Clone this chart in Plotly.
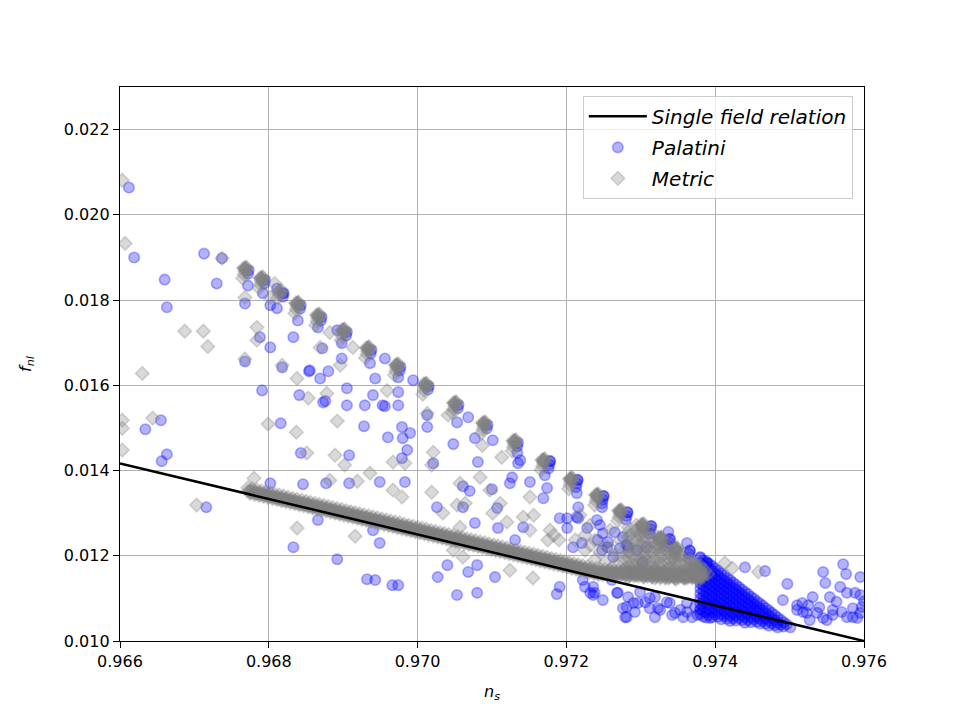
import plotly.graph_objects as go

# ---------------- data ----------------
x_ticks = [0.966, 0.968, 0.970, 0.972, 0.974, 0.976]
x_tick_labels = ["0.966", "0.968", "0.970", "0.972", "0.974", "0.976"]
y_ticks = [0.010, 0.012, 0.014, 0.016, 0.018, 0.020, 0.022]
y_tick_labels = ["0.010", "0.012", "0.014", "0.016", "0.018", "0.020", "0.022"]

# single field relation (end points)
line_ns = [0.966, 0.976]
line_fnl = [0.0141667, 0.0100]

# Metric: dense clusters along upper stripe
metric_clusters = [
    (0.96768, 0.01874), (0.96768, 0.01874), (0.96769, 0.01876), (0.96768, 0.01867), (0.96767, 0.01860), (0.96765, 0.01851),
    (0.96770, 0.01877), (0.96766, 0.01875), (0.96769, 0.01870),
    (0.96790, 0.01851), (0.96790, 0.01851), (0.96791, 0.01853), (0.96790, 0.01844), (0.96789, 0.01837), (0.96787, 0.01828),
    (0.96792, 0.01854), (0.96788, 0.01852), (0.96791, 0.01847),
    (0.96815, 0.01820), (0.96814, 0.01813), (0.96812, 0.01805),
    (0.96817, 0.01823), (0.96813, 0.01821), (0.96816, 0.01816),
    (0.96838, 0.01792), (0.96838, 0.01792), (0.96839, 0.01794), (0.96838, 0.01785), (0.96837, 0.01778), (0.96835, 0.01769),
    (0.96840, 0.01795), (0.96836, 0.01793), (0.96839, 0.01788),
    (0.96866, 0.01764), (0.96866, 0.01764), (0.96867, 0.01766), (0.96866, 0.01757), (0.96865, 0.01750), (0.96863, 0.01741),
    (0.96868, 0.01767), (0.96864, 0.01765), (0.96867, 0.01760),
    (0.96900, 0.01729), (0.96900, 0.01729), (0.96901, 0.01731), (0.96900, 0.01722), (0.96899, 0.01715), (0.96897, 0.01706),
    (0.96902, 0.01732), (0.96898, 0.01730), (0.96901, 0.01725),
    (0.96933, 0.01687), (0.96933, 0.01687), (0.96934, 0.01689), (0.96933, 0.01680), (0.96932, 0.01673), (0.96930, 0.01664),
    (0.96935, 0.01690), (0.96931, 0.01688), (0.96934, 0.01683),
    (0.96972, 0.01647), (0.96972, 0.01647), (0.96973, 0.01649), (0.96972, 0.01640), (0.96971, 0.01633), (0.96969, 0.01624),
    (0.96974, 0.01650), (0.96970, 0.01648), (0.96973, 0.01643),
    (0.97010, 0.01602), (0.97010, 0.01602), (0.97011, 0.01604), (0.97010, 0.01595), (0.97009, 0.01588), (0.97007, 0.01579),
    (0.97012, 0.01605), (0.97008, 0.01603), (0.97011, 0.01598),
    (0.97050, 0.01558), (0.97050, 0.01558), (0.97051, 0.01560), (0.97050, 0.01551), (0.97049, 0.01544), (0.97047, 0.01535),
    (0.97052, 0.01561), (0.97048, 0.01559), (0.97051, 0.01554),
    (0.97089, 0.01511), (0.97089, 0.01511), (0.97090, 0.01513), (0.97089, 0.01504), (0.97088, 0.01497), (0.97086, 0.01488),
    (0.97091, 0.01514), (0.97087, 0.01512), (0.97090, 0.01507),
    (0.97130, 0.01469), (0.97130, 0.01469), (0.97131, 0.01471), (0.97130, 0.01462), (0.97129, 0.01455), (0.97127, 0.01446),
    (0.97132, 0.01472), (0.97128, 0.01470), (0.97131, 0.01465),
    (0.97169, 0.01424), (0.97169, 0.01424), (0.97170, 0.01426), (0.97169, 0.01417), (0.97168, 0.01410), (0.97166, 0.01401),
    (0.97171, 0.01427), (0.97167, 0.01425), (0.97170, 0.01420),
    (0.97206, 0.01380), (0.97206, 0.01380), (0.97207, 0.01382), (0.97206, 0.01373), (0.97205, 0.01366), (0.97203, 0.01357),
    (0.97208, 0.01383), (0.97204, 0.01381), (0.97207, 0.01376),
    (0.97241, 0.01342), (0.97241, 0.01342), (0.97242, 0.01344), (0.97241, 0.01335), (0.97240, 0.01328), (0.97238, 0.01319),
    (0.97243, 0.01345), (0.97239, 0.01343), (0.97242, 0.01338),
    (0.97272, 0.01305), (0.97272, 0.01305), (0.97273, 0.01307), (0.97272, 0.01298), (0.97271, 0.01291), (0.97269, 0.01282),
    (0.97274, 0.01308), (0.97270, 0.01306), (0.97273, 0.01301),
    (0.97302, 0.01272), (0.97302, 0.01272), (0.97303, 0.01274), (0.97302, 0.01265), (0.97301, 0.01258), (0.97299, 0.01249),
    (0.97304, 0.01275), (0.97300, 0.01273), (0.97303, 0.01268),
    (0.97326, 0.01241), (0.97326, 0.01241), (0.97327, 0.01243), (0.97326, 0.01234), (0.97325, 0.01227), (0.97323, 0.01218),
    (0.97328, 0.01244), (0.97324, 0.01242), (0.97327, 0.01237),
    (0.97347, 0.01216), (0.97347, 0.01216), (0.97348, 0.01218), (0.97347, 0.01209), (0.97346, 0.01202), (0.97344, 0.01193),
    (0.97349, 0.01219), (0.97345, 0.01217), (0.97348, 0.01212),
    (0.97373, 0.01178), (0.97373, 0.01178), (0.97374, 0.01180), (0.97373, 0.01171), (0.97372, 0.01164), (0.97370, 0.01155),
]

# Metric: dense lower band (main ridge)
metric_band_ns = [
    0.96772, 0.96775, 0.96778, 0.96781, 0.96784, 0.96787, 0.96790, 0.96793, 0.96796, 0.96799,
    0.96802, 0.96805, 0.96808, 0.96811, 0.96814, 0.96817, 0.96820, 0.96823, 0.96826, 0.96829,
    0.96832, 0.96835, 0.96838, 0.96841, 0.96844, 0.96847, 0.96850, 0.96853, 0.96856, 0.96859,
    0.96862, 0.96865, 0.96868, 0.96871, 0.96874, 0.96877, 0.96880, 0.96883, 0.96886, 0.96889,
    0.96892, 0.96895, 0.96898, 0.96901, 0.96904, 0.96907, 0.96910, 0.96913, 0.96916, 0.96919,
    0.96922, 0.96925, 0.96928, 0.96931, 0.96934, 0.96937, 0.96940, 0.96943, 0.96946, 0.96949,
    0.96952, 0.96955, 0.96958, 0.96961, 0.96964, 0.96967, 0.96970, 0.96973, 0.96976, 0.96979,
    0.96982, 0.96985, 0.96988, 0.96991, 0.96994, 0.96997, 0.97000, 0.97003, 0.97006, 0.97009,
    0.97012, 0.97015, 0.97018, 0.97021, 0.97024, 0.97027, 0.97030, 0.97033, 0.97036, 0.97039,
    0.97042, 0.97045, 0.97048, 0.97051, 0.97054, 0.97057, 0.97060, 0.97063, 0.97066, 0.97069,
    0.97072, 0.97075, 0.97078, 0.97081, 0.97084, 0.97087, 0.97090, 0.97093, 0.97096, 0.97099,
    0.97102, 0.97105, 0.97108, 0.97111, 0.97114, 0.97117, 0.97120, 0.97123, 0.97126, 0.97129,
    0.97132, 0.97135, 0.97138, 0.97141, 0.97144, 0.97147, 0.97150, 0.97153, 0.97156, 0.97159,
    0.97162, 0.97165, 0.97168, 0.97171, 0.97174, 0.97177, 0.97180, 0.97183, 0.97186, 0.97189,
    0.97192, 0.97195, 0.97198, 0.97201, 0.97204, 0.97207, 0.97210, 0.97213, 0.97216, 0.97219,
    0.97222, 0.97225, 0.97228, 0.97231, 0.97234, 0.97237, 0.97240, 0.97243, 0.97246, 0.97249,
    0.97252, 0.97255, 0.97258, 0.97261, 0.97264, 0.97267, 0.97270, 0.97273, 0.97276, 0.97279,
    0.97282, 0.97285, 0.97288, 0.97291, 0.97294, 0.97297, 0.97300, 0.97303, 0.97306, 0.97309,
    0.97312, 0.97315, 0.97318, 0.97321, 0.97324, 0.97327, 0.97330, 0.97333, 0.97336, 0.97339,
    0.97342, 0.97345, 0.97348, 0.97351, 0.97354, 0.97357, 0.97360, 0.97363, 0.97366, 0.97369,
    0.97372, 0.97375, 0.97378, 0.97381, 0.97384,
]
metric_band_fnl = [
    0.013516, 0.013504, 0.013492, 0.013479, 0.013467, 0.013455, 0.013443, 0.013431, 0.013418, 0.013406,
    0.013394, 0.013382, 0.013370, 0.013357, 0.013345, 0.013333, 0.013321, 0.013309, 0.013297, 0.013284,
    0.013272, 0.013260, 0.013248, 0.013236, 0.013223, 0.013211, 0.013199, 0.013187, 0.013175, 0.013162,
    0.013150, 0.013138, 0.013126, 0.013114, 0.013101, 0.013089, 0.013077, 0.013065, 0.013053, 0.013041,
    0.013028, 0.013016, 0.013004, 0.012992, 0.012980, 0.012967, 0.012955, 0.012943, 0.012931, 0.012919,
    0.012906, 0.012894, 0.012882, 0.012870, 0.012858, 0.012845, 0.012833, 0.012821, 0.012809, 0.012797,
    0.012785, 0.012772, 0.012760, 0.012748, 0.012736, 0.012724, 0.012711, 0.012699, 0.012687, 0.012675,
    0.012663, 0.012650, 0.012638, 0.012626, 0.012614, 0.012602, 0.012589, 0.012577, 0.012565, 0.012553,
    0.012541, 0.012528, 0.012516, 0.012504, 0.012492, 0.012480, 0.012467, 0.012455, 0.012443, 0.012431,
    0.012419, 0.012406, 0.012394, 0.012382, 0.012370, 0.012358, 0.012346, 0.012333, 0.012321, 0.012309,
    0.012297, 0.012285, 0.012272, 0.012260, 0.012248, 0.012236, 0.012224, 0.012211, 0.012199, 0.012187,
    0.012175, 0.012163, 0.012150, 0.012138, 0.012126, 0.012114, 0.012102, 0.012089, 0.012077, 0.012065,
    0.012053, 0.012041, 0.012028, 0.012016, 0.012004, 0.011992, 0.011980, 0.011967, 0.011955, 0.011943,
    0.011931, 0.011919, 0.011907, 0.011894, 0.011882, 0.011870, 0.011858, 0.011846, 0.011833, 0.011821,
    0.011809, 0.011797, 0.011785, 0.011772, 0.011760, 0.011748, 0.011736, 0.011724, 0.011711, 0.011699,
    0.011688, 0.011675, 0.011663, 0.011651, 0.011639, 0.011626, 0.011614, 0.011602, 0.011600, 0.011598,
    0.011596, 0.011594, 0.011592, 0.011590, 0.011588, 0.011586, 0.011584, 0.011582, 0.011580, 0.011578,
    0.011576, 0.011574, 0.011572, 0.011570, 0.011568, 0.011566, 0.011564, 0.011562, 0.011560, 0.011558,
    0.011556, 0.011554, 0.011552, 0.011550, 0.011548, 0.011546, 0.011544, 0.011542, 0.011540, 0.011538,
    0.011536, 0.011534, 0.011532, 0.011530, 0.011528, 0.011526, 0.011524, 0.011522, 0.011520, 0.011518,
    0.011516, 0.011514, 0.011512, 0.011510, 0.011508,
]

# Metric: upper edge of the lower band
metric_band_top_ns = [
    0.96772, 0.96778, 0.96784, 0.96790, 0.96796, 0.96802, 0.96808, 0.96814, 0.96820, 0.96826,
    0.96832, 0.96838, 0.96844, 0.96850, 0.96856, 0.96862, 0.96868, 0.96874, 0.96880, 0.96886,
    0.96892, 0.96898, 0.96904, 0.96910, 0.96916, 0.96922, 0.96928, 0.96934, 0.96940, 0.96946,
    0.96952, 0.96958, 0.96964, 0.96970, 0.96976, 0.96982, 0.96988, 0.96994, 0.97000, 0.97006,
    0.97012, 0.97018, 0.97024, 0.97030, 0.97036, 0.97042, 0.97048, 0.97054, 0.97060, 0.97066,
    0.97072, 0.97078, 0.97084, 0.97090, 0.97096, 0.97102, 0.97108, 0.97114, 0.97120, 0.97126,
    0.97132, 0.97138, 0.97144, 0.97150, 0.97156, 0.97162, 0.97168, 0.97174, 0.97180, 0.97186,
    0.97192, 0.97198, 0.97204, 0.97210, 0.97216, 0.97222, 0.97228, 0.97234, 0.97240, 0.97246,
    0.97252, 0.97258, 0.97264, 0.97270, 0.97276, 0.97282, 0.97288, 0.97294, 0.97300, 0.97306,
    0.97312, 0.97318, 0.97324, 0.97330, 0.97336, 0.97342, 0.97348, 0.97354, 0.97360, 0.97366,
    0.97372, 0.97378, 0.97384,
]
metric_band_top_fnl = [
    0.013596, 0.013572, 0.013547, 0.013523, 0.013498, 0.013474, 0.013450, 0.013425, 0.013401, 0.013377,
    0.013352, 0.013328, 0.013303, 0.013279, 0.013255, 0.013230, 0.013206, 0.013181, 0.013157, 0.013133,
    0.013108, 0.013084, 0.013060, 0.013035, 0.013011, 0.012986, 0.012962, 0.012938, 0.012913, 0.012889,
    0.012865, 0.012840, 0.012816, 0.012791, 0.012767, 0.012743, 0.012718, 0.012694, 0.012669, 0.012645,
    0.012621, 0.012596, 0.012572, 0.012547, 0.012523, 0.012499, 0.012474, 0.012450, 0.012426, 0.012401,
    0.012377, 0.012352, 0.012328, 0.012304, 0.012279, 0.012255, 0.012230, 0.012206, 0.012182, 0.012157,
    0.012133, 0.012108, 0.012084, 0.012060, 0.012035, 0.012011, 0.011987, 0.011962, 0.011938, 0.011913,
    0.011889, 0.011865, 0.011840, 0.011816, 0.011791, 0.011768, 0.011743, 0.011719, 0.011694, 0.011680,
    0.011676, 0.011672, 0.011668, 0.011664, 0.011660, 0.011656, 0.011652, 0.011648, 0.011644, 0.011640,
    0.011636, 0.011632, 0.011628, 0.011624, 0.011620, 0.011616, 0.011612, 0.011608, 0.011604, 0.011600,
    0.011596, 0.011592, 0.011588,
]

# Metric: lower edge and inner ridge of the lower band (same ns positions)
metric_band_low_ns = [
    0.96775, 0.96781, 0.96787, 0.96793, 0.96799, 0.96805, 0.96811, 0.96817, 0.96823, 0.96829,
    0.96835, 0.96841, 0.96847, 0.96853, 0.96859, 0.96865, 0.96871, 0.96877, 0.96883, 0.96889,
    0.96895, 0.96901, 0.96907, 0.96913, 0.96919, 0.96925, 0.96931, 0.96937, 0.96943, 0.96949,
    0.96955, 0.96961, 0.96967, 0.96973, 0.96979, 0.96985, 0.96991, 0.96997, 0.97003, 0.97009,
    0.97015, 0.97021, 0.97027, 0.97033, 0.97039, 0.97045, 0.97051, 0.97057, 0.97063, 0.97069,
    0.97075, 0.97081, 0.97087, 0.97093, 0.97099, 0.97105, 0.97111, 0.97117, 0.97123, 0.97129,
    0.97135, 0.97141, 0.97147, 0.97153, 0.97159, 0.97165, 0.97171, 0.97177, 0.97183, 0.97189,
    0.97195, 0.97201, 0.97207, 0.97213, 0.97219, 0.97225, 0.97231, 0.97237, 0.97243, 0.97249,
    0.97255, 0.97261, 0.97267, 0.97273, 0.97279, 0.97285, 0.97291, 0.97297, 0.97303, 0.97309,
    0.97315, 0.97321, 0.97327, 0.97333, 0.97339, 0.97345, 0.97351, 0.97357, 0.97363, 0.97369,
    0.97375, 0.97381,
]
metric_band_low_fnl = [
    0.013464, 0.013439, 0.013415, 0.013391, 0.013366, 0.013342, 0.013317, 0.013293, 0.013269, 0.013244,
    0.013220, 0.013196, 0.013171, 0.013147, 0.013122, 0.013098, 0.013074, 0.013049, 0.013025, 0.013001,
    0.012976, 0.012952, 0.012927, 0.012903, 0.012879, 0.012854, 0.012830, 0.012805, 0.012781, 0.012757,
    0.012732, 0.012708, 0.012684, 0.012659, 0.012635, 0.012610, 0.012586, 0.012562, 0.012537, 0.012513,
    0.012488, 0.012464, 0.012440, 0.012415, 0.012391, 0.012366, 0.012342, 0.012318, 0.012293, 0.012269,
    0.012245, 0.012220, 0.012196, 0.012171, 0.012147, 0.012123, 0.012098, 0.012074, 0.012049, 0.012025,
    0.012001, 0.011976, 0.011952, 0.011927, 0.011903, 0.011879, 0.011854, 0.011830, 0.011806, 0.011781,
    0.011757, 0.011732, 0.011708, 0.011684, 0.011659, 0.011635, 0.011611, 0.011586, 0.011562, 0.011558,
    0.011554, 0.011550, 0.011546, 0.011542, 0.011538, 0.011534, 0.011530, 0.011526, 0.011522, 0.011518,
    0.011514, 0.011510, 0.011506, 0.011502, 0.011498, 0.011494, 0.011490, 0.011486, 0.011482, 0.011478,
    0.011474, 0.011470,
]
metric_band_mid_fnl = [
    0.013524, 0.013499, 0.013475, 0.013451, 0.013426, 0.013402, 0.013377, 0.013353, 0.013329, 0.013304,
    0.013280, 0.013256, 0.013231, 0.013207, 0.013182, 0.013158, 0.013134, 0.013109, 0.013085, 0.013061,
    0.013036, 0.013012, 0.012987, 0.012963, 0.012939, 0.012914, 0.012890, 0.012865, 0.012841, 0.012817,
    0.012792, 0.012768, 0.012744, 0.012719, 0.012695, 0.012670, 0.012646, 0.012622, 0.012597, 0.012573,
    0.012548, 0.012524, 0.012500, 0.012475, 0.012451, 0.012426, 0.012402, 0.012378, 0.012353, 0.012329,
    0.012305, 0.012280, 0.012256, 0.012231, 0.012207, 0.012183, 0.012158, 0.012134, 0.012109, 0.012085,
    0.012061, 0.012036, 0.012012, 0.011987, 0.011963, 0.011939, 0.011914, 0.011890, 0.011866, 0.011841,
    0.011817, 0.011792, 0.011768, 0.011744, 0.011719, 0.011695, 0.011671, 0.011646, 0.011622, 0.011618,
    0.011614, 0.011610, 0.011606, 0.011602, 0.011598, 0.011594, 0.011590, 0.011586, 0.011582, 0.011578,
    0.011574, 0.011570, 0.011566, 0.011562, 0.011558, 0.011554, 0.011550, 0.011546, 0.011542, 0.011538,
    0.011534, 0.011530,
]

# Metric: fan between stripe and band (right part)
metric_fan = [
    (0.972586, 0.012602), (0.972720, 0.012367), (0.972855, 0.012485), (0.972989, 0.012250),
    (0.973124, 0.012133), (0.973258, 0.012016), (0.973392, 0.011899), (0.973527, 0.011781),
    (0.973661, 0.011664), (0.973796, 0.011617), (0.972653, 0.012016), (0.972788, 0.011899),
    (0.972922, 0.011781), (0.973056, 0.011899), (0.973191, 0.011711), (0.973325, 0.011617),
    (0.973460, 0.011547), (0.973594, 0.011477), (0.973728, 0.011547), (0.972519, 0.012250),
    (0.972317, 0.012719), (0.972384, 0.012367), (0.972183, 0.012953), (0.972250, 0.012485),
    (0.973124, 0.012367), (0.973325, 0.012180), (0.973527, 0.012016), (0.973661, 0.011899),
    (0.973796, 0.011781), (0.973863, 0.011664),
    (0.97232, 0.01225), (0.97245, 0.01209), (0.97259, 0.01218), (0.97272, 0.01202), (0.97285, 0.01209),
    (0.97299, 0.01190), (0.97312, 0.01185), (0.97326, 0.01178), (0.97339, 0.01171), (0.97353, 0.01162),
    (0.97366, 0.01176), (0.97380, 0.01166), (0.97212, 0.01237), (0.97225, 0.01213), (0.97238, 0.01190),
    (0.97252, 0.01185), (0.97265, 0.01178), (0.97279, 0.01171), (0.97292, 0.01162), (0.97306, 0.01155),
    (0.97319, 0.01148), (0.97333, 0.01148), (0.97346, 0.01148), (0.97359, 0.01148), (0.97373, 0.01150),
]

# Metric: columns trailing below the last clusters (solid fan)
metric_fan_cols = [
    (0.97283, 0.01267), (0.97283, 0.01256), (0.97283, 0.01244), (0.97283, 0.01232), (0.97283, 0.01220),
    (0.97283, 0.01209), (0.97283, 0.01197), (0.97283, 0.01185), (0.97283, 0.01174), (0.97283, 0.01162),
    (0.97283, 0.01150),
    (0.97294, 0.01272), (0.97294, 0.01260), (0.97294, 0.01249), (0.97294, 0.01237), (0.97294, 0.01225),
    (0.97294, 0.01213), (0.97294, 0.01202), (0.97294, 0.01190), (0.97294, 0.01178), (0.97294, 0.01167),
    (0.97294, 0.01155),
    (0.97304, 0.01267), (0.97304, 0.01256), (0.97304, 0.01244), (0.97304, 0.01232), (0.97304, 0.01220),
    (0.97304, 0.01209), (0.97304, 0.01197), (0.97304, 0.01185), (0.97304, 0.01174), (0.97304, 0.01162),
    (0.97304, 0.01150),
    (0.97315, 0.01256), (0.97315, 0.01244), (0.97315, 0.01232), (0.97315, 0.01220), (0.97315, 0.01209),
    (0.97315, 0.01197), (0.97315, 0.01185), (0.97315, 0.01174), (0.97315, 0.01162), (0.97315, 0.01150),
    (0.97326, 0.01241), (0.97326, 0.01230), (0.97326, 0.01218), (0.97326, 0.01206), (0.97326, 0.01195),
    (0.97326, 0.01183), (0.97326, 0.01171), (0.97326, 0.01159), (0.97326, 0.01148),
    (0.97337, 0.01230), (0.97337, 0.01218), (0.97337, 0.01206), (0.97337, 0.01195), (0.97337, 0.01183),
    (0.97337, 0.01171), (0.97337, 0.01159), (0.97337, 0.01148),
    (0.97347, 0.01216), (0.97347, 0.01204), (0.97347, 0.01192), (0.97347, 0.01180), (0.97347, 0.01169),
    (0.97347, 0.01157), (0.97347, 0.01145),
    (0.97358, 0.01202), (0.97358, 0.01190), (0.97358, 0.01178), (0.97358, 0.01167), (0.97358, 0.01155),
    (0.97369, 0.01188), (0.97369, 0.01176), (0.97369, 0.01164), (0.97369, 0.01152),
    (0.97380, 0.01173), (0.97380, 0.01162), (0.97380, 0.01150),
    (0.97390, 0.01157),
]

# Metric: scattered points
metric_scatter = [
    (0.96603, 0.02081), (0.96607, 0.01933), (0.96737, 0.01898), (0.96687, 0.01727), (0.96712, 0.01727),
    (0.96718, 0.01691), (0.96630, 0.01628), (0.96603, 0.01518), (0.96603, 0.01499), (0.96603, 0.01448),
    (0.96644, 0.01523), (0.96703, 0.01319), (0.96780, 0.01382), (0.96838, 0.01265), (0.96916, 0.01246),
    (0.96768, 0.01806), (0.96784, 0.01736), (0.96784, 0.01706), (0.96802, 0.01806), (0.96808, 0.01839),
    (0.96768, 0.01662), (0.96818, 0.01647), (0.96838, 0.01616), (0.96869, 0.01689), (0.96882, 0.01724),
    (0.96913, 0.01689), (0.96853, 0.01570), (0.96878, 0.01581), (0.96959, 0.01588), (0.96896, 0.01647),
    (0.96799, 0.01509), (0.96837, 0.01490), (0.96892, 0.01516), (0.96851, 0.01441), (0.96889, 0.01436),
    (0.96902, 0.01413), (0.96882, 0.01377), (0.96919, 0.01375), (0.97013, 0.01534), (0.96967, 0.01420),
    (0.97021, 0.01443), (0.97019, 0.01413), (0.96936, 0.01394), (0.96967, 0.01354), (0.96979, 0.01338),
    (0.97019, 0.01349), (0.97084, 0.01384), (0.97057, 0.01370), (0.97097, 0.01354), (0.97151, 0.01338),
    (0.97111, 0.01323), (0.97053, 0.01319), (0.97034, 0.01300), (0.97101, 0.01300), (0.97120, 0.01279),
    (0.97142, 0.01291), (0.97151, 0.01260), (0.97057, 0.01267), (0.97048, 0.01213), (0.97061, 0.01197),
    (0.97124, 0.01166), (0.97155, 0.01148), (0.97178, 0.01260), (0.97175, 0.01237), (0.97041, 0.01530),
    (0.97087, 0.01459), (0.97113, 0.01431), (0.96983, 0.01417), (0.97064, 0.01323), (0.97156, 0.01295),
    (0.97183, 0.01248), (0.97190, 0.01237), (0.97413, 0.01183), (0.97423, 0.01171), (0.97458, 0.01162),
]

# Palatini: stripe points beside the metric clusters
pal_stripe = [
    (0.96773, 0.01870), (0.96772, 0.01862), (0.96795, 0.01847), (0.96794, 0.01839),
    (0.96820, 0.01816), (0.96819, 0.01808), (0.96843, 0.01788), (0.96842, 0.01780),
    (0.96871, 0.01760), (0.96870, 0.01752), (0.96905, 0.01725), (0.96904, 0.01717),
    (0.96938, 0.01683), (0.96937, 0.01675), (0.96977, 0.01643), (0.96976, 0.01635),
    (0.97015, 0.01598), (0.97014, 0.01590), (0.97055, 0.01554), (0.97054, 0.01546),
    (0.97094, 0.01507), (0.97093, 0.01499), (0.97135, 0.01465), (0.97134, 0.01457),
    (0.97178, 0.01422), (0.97178, 0.01422), (0.97177, 0.01414), (0.97176, 0.01405),
    (0.97215, 0.01378), (0.97215, 0.01378), (0.97214, 0.01370), (0.97213, 0.01361),
    (0.97250, 0.01340), (0.97250, 0.01340), (0.97249, 0.01332), (0.97248, 0.01323),
    (0.97282, 0.01302), (0.97282, 0.01302), (0.97281, 0.01294), (0.97280, 0.01285),
    (0.97314, 0.01270), (0.97314, 0.01270), (0.97313, 0.01262), (0.97312, 0.01253),
    (0.97339, 0.01239), (0.97339, 0.01239), (0.97338, 0.01231), (0.97337, 0.01222),
    (0.97366, 0.01212), (0.97366, 0.01212), (0.97365, 0.01204), (0.97364, 0.01195),
    (0.97389, 0.01183), (0.97389, 0.01183), (0.97380, 0.01197),
]

# Palatini: scattered points
pal_scatter = [
    (0.96612, 0.02064), (0.96619, 0.01900), (0.96713, 0.01909), (0.96737, 0.01898), (0.96660, 0.01848),
    (0.96730, 0.01839), (0.96663, 0.01783), (0.96634, 0.01497), (0.96655, 0.01518), (0.96663, 0.01438),
    (0.96656, 0.01422), (0.96716, 0.01314), (0.96768, 0.01792), (0.96788, 0.01713), (0.96802, 0.01689),
    (0.96833, 0.01713), (0.96872, 0.01687), (0.96768, 0.01656), (0.96818, 0.01642), (0.96854, 0.01633),
    (0.96791, 0.01588), (0.96841, 0.01577), (0.96876, 0.01563), (0.96905, 0.01593), (0.96905, 0.01553),
    (0.96929, 0.01553), (0.96816, 0.01511), (0.96928, 0.01504), (0.96843, 0.01441), (0.96908, 0.01436),
    (0.96802, 0.01370), (0.96846, 0.01368), (0.96877, 0.01370), (0.96908, 0.01370), (0.96866, 0.01284),
    (0.96833, 0.01220), (0.96892, 0.01192), (0.96932, 0.01145),
    (0.96772, 0.01834), (0.96792, 0.01816), (0.96811, 0.01827), (0.96819, 0.01816), (0.96811, 0.01781),
    (0.96802, 0.01788), (0.96839, 0.01752), (0.96866, 0.01736), (0.96892, 0.01729), (0.96898, 0.01699),
    (0.96898, 0.01663), (0.96855, 0.01635), (0.96880, 0.01633), (0.96869, 0.01616), (0.96936, 0.01652),
    (0.96956, 0.01663), (0.96943, 0.01616), (0.96974, 0.01619), (0.96873, 0.01560), (0.96940, 0.01577),
    (0.96953, 0.01553), (0.96974, 0.01553),
    (0.96994, 0.01612), (0.96956, 0.01551), (0.96974, 0.01584), (0.97013, 0.01530), (0.97013, 0.01502),
    (0.97053, 0.01513), (0.97068, 0.01525), (0.97077, 0.01476), (0.97101, 0.01471), (0.97048, 0.01462),
    (0.97081, 0.01420), (0.96960, 0.01478), (0.96979, 0.01502), (0.96990, 0.01488), (0.96980, 0.01476),
    (0.96986, 0.01448), (0.96979, 0.01429), (0.97021, 0.01417), (0.97134, 0.01441), (0.97138, 0.01424),
    (0.97127, 0.01384), (0.97151, 0.01373), (0.97171, 0.01389), (0.97174, 0.01359), (0.97169, 0.01335),
    (0.97214, 0.01347), (0.97216, 0.01314), (0.97214, 0.01291), (0.97191, 0.01288), (0.97201, 0.01265),
    (0.97228, 0.01265), (0.97221, 0.01230), (0.97209, 0.01220), (0.96949, 0.01373), (0.96983, 0.01373),
    (0.97061, 0.01363), (0.97070, 0.01352), (0.97100, 0.01356), (0.97026, 0.01314), (0.97061, 0.01314),
    (0.97107, 0.01312), (0.97077, 0.01277), (0.97108, 0.01265), (0.97142, 0.01267), (0.96940, 0.01260),
    (0.96949, 0.01230), (0.97040, 0.01178), (0.97027, 0.01150), (0.97068, 0.01162), (0.97080, 0.01178),
    (0.97104, 0.01150), (0.96943, 0.01143), (0.96966, 0.01131), (0.96974, 0.01131), (0.97053, 0.01108),
    (0.97080, 0.01113), (0.97131, 0.01237), (0.97191, 0.01127), (0.97187, 0.01110), (0.97236, 0.01108),
    (0.97249, 0.01096), (0.97135, 0.01417), (0.97124, 0.01370),
    (0.97245, 0.01272), (0.97256, 0.01232), (0.97248, 0.01213), (0.97272, 0.01218), (0.97281, 0.01225),
    (0.97265, 0.01255), (0.97242, 0.01237), (0.97232, 0.01113), (0.97269, 0.01113), (0.97283, 0.01103),
    (0.97281, 0.01080), (0.97292, 0.01068), (0.97296, 0.01089), (0.97312, 0.01101), (0.97323, 0.01077),
    (0.97335, 0.01091), (0.97346, 0.01066), (0.97362, 0.01068), (0.97369, 0.01056), (0.97380, 0.01073),
    (0.97281, 0.01056), (0.97319, 0.01056),
    (0.97225, 0.01127), (0.97238, 0.01113), (0.97276, 0.01077), (0.97279, 0.01056), (0.97290, 0.01089),
    (0.97306, 0.01091), (0.97312, 0.01077), (0.97326, 0.01073), (0.97342, 0.01061), (0.97353, 0.01073),
    (0.97357, 0.01056), (0.97376, 0.01061), (0.97373, 0.01080), (0.97393, 0.01054), (0.97362, 0.01089),
    (0.97268, 0.01113), (0.97339, 0.01089), (0.97319, 0.01103), (0.97299, 0.01115), (0.97261, 0.01143),
    (0.97236, 0.01127), (0.97222, 0.01143),
    (0.97216, 0.01288), (0.97201, 0.01288), (0.97249, 0.01253), (0.97255, 0.01220), (0.97248, 0.01314),
    (0.97241, 0.01284), (0.97276, 0.01244), (0.97283, 0.01220), (0.97263, 0.01197), (0.97295, 0.01213),
    (0.97308, 0.01220), (0.97302, 0.01185), (0.97337, 0.01256), (0.97362, 0.01230),
]

# Palatini: right-hand tail
pal_tail = [
    (0.97440, 0.01173), (0.97467, 0.01164), (0.97497, 0.01134), (0.97491, 0.01096), (0.97517, 0.01089),
    (0.97545, 0.01162), (0.97548, 0.01136), (0.97572, 0.01180), (0.97576, 0.01157), (0.97595, 0.01150),
    (0.97531, 0.01103), (0.97554, 0.01103), (0.97577, 0.01113), (0.97588, 0.01113), (0.97518, 0.01068),
    (0.97537, 0.01066), (0.97558, 0.01073), (0.97570, 0.01068), (0.97585, 0.01056), (0.97595, 0.01066),
    (0.97545, 0.01054), (0.97510, 0.01084), (0.97525, 0.01084), (0.97585, 0.01077), (0.97597, 0.01080),
    (0.97595, 0.01108), (0.97510, 0.01073), (0.97523, 0.01066), (0.97558, 0.01061), (0.97577, 0.01056),
    (0.97591, 0.01054), (0.97550, 0.01049), (0.97527, 0.01049), (0.97563, 0.01092), (0.97540, 0.01079),
    (0.97600, 0.01093), (0.97568, 0.01127),
]

# Palatini: dense wedge converging near ns ~ 0.975
pal_wedge = [
    (0.97380, 0.01195), (0.97380, 0.01183), (0.97380, 0.01171), (0.97380, 0.01159), (0.97380, 0.01147),
    (0.97380, 0.01135), (0.97380, 0.01123), (0.97380, 0.01111), (0.97380, 0.01099), (0.97380, 0.01087),
    (0.97380, 0.01075), (0.97380, 0.01063),
    (0.97388, 0.01187), (0.97388, 0.01175), (0.97388, 0.01163), (0.97388, 0.01151), (0.97388, 0.01139),
    (0.97388, 0.01127), (0.97388, 0.01115), (0.97388, 0.01103), (0.97388, 0.01091), (0.97388, 0.01079),
    (0.97388, 0.01067), (0.97388, 0.01055),
    (0.97396, 0.01176), (0.97396, 0.01164), (0.97396, 0.01152), (0.97396, 0.01140), (0.97396, 0.01128),
    (0.97396, 0.01116), (0.97396, 0.01104), (0.97396, 0.01092), (0.97396, 0.01080), (0.97396, 0.01068),
    (0.97396, 0.01056),
    (0.97404, 0.01165), (0.97404, 0.01153), (0.97404, 0.01141), (0.97404, 0.01129), (0.97404, 0.01117),
    (0.97404, 0.01105), (0.97404, 0.01093), (0.97404, 0.01081), (0.97404, 0.01069), (0.97404, 0.01057),
    (0.97412, 0.01154), (0.97412, 0.01142), (0.97412, 0.01130), (0.97412, 0.01118), (0.97412, 0.01106),
    (0.97412, 0.01094), (0.97412, 0.01082), (0.97412, 0.01070), (0.97412, 0.01058),
    (0.97420, 0.01143), (0.97420, 0.01131), (0.97420, 0.01119), (0.97420, 0.01107), (0.97420, 0.01095),
    (0.97420, 0.01083), (0.97420, 0.01071), (0.97420, 0.01059), (0.97420, 0.01047),
    (0.97428, 0.01132), (0.97428, 0.01120), (0.97428, 0.01108), (0.97428, 0.01096), (0.97428, 0.01084),
    (0.97428, 0.01072), (0.97428, 0.01060), (0.97428, 0.01048),
    (0.97436, 0.01121), (0.97436, 0.01109), (0.97436, 0.01097), (0.97436, 0.01085), (0.97436, 0.01073),
    (0.97436, 0.01061), (0.97436, 0.01049),
    (0.97444, 0.01110), (0.97444, 0.01098), (0.97444, 0.01086), (0.97444, 0.01074), (0.97444, 0.01062),
    (0.97444, 0.01050),
    (0.97452, 0.01099), (0.97452, 0.01087), (0.97452, 0.01075), (0.97452, 0.01063), (0.97452, 0.01051),
    (0.97460, 0.01088), (0.97460, 0.01076), (0.97460, 0.01064), (0.97460, 0.01052), (0.97460, 0.01041),
    (0.97468, 0.01077), (0.97468, 0.01065), (0.97468, 0.01053), (0.97468, 0.01041),
    (0.97476, 0.01066), (0.97476, 0.01054), (0.97476, 0.01042),
    (0.97484, 0.01055), (0.97484, 0.01043), (0.97484, 0.01032),
    (0.97492, 0.01044), (0.97492, 0.01034),
    (0.97501, 0.01032),
    (0.97384, 0.01189), (0.97384, 0.01177), (0.97384, 0.01165), (0.97384, 0.01153), (0.97384, 0.01141),
    (0.97384, 0.01129), (0.97384, 0.01117), (0.97384, 0.01105), (0.97384, 0.01093), (0.97384, 0.01081),
    (0.97384, 0.01069), (0.97384, 0.01057),
    (0.97392, 0.01181), (0.97392, 0.01169), (0.97392, 0.01157), (0.97392, 0.01145), (0.97392, 0.01133),
    (0.97392, 0.01121), (0.97392, 0.01109), (0.97392, 0.01097), (0.97392, 0.01085), (0.97392, 0.01073),
    (0.97392, 0.01061),
    (0.97400, 0.01170), (0.97400, 0.01158), (0.97400, 0.01146), (0.97400, 0.01134), (0.97400, 0.01122),
    (0.97400, 0.01110), (0.97400, 0.01098), (0.97400, 0.01086), (0.97400, 0.01074), (0.97400, 0.01062),
    (0.97408, 0.01159), (0.97408, 0.01147), (0.97408, 0.01135), (0.97408, 0.01123), (0.97408, 0.01111),
    (0.97408, 0.01099), (0.97408, 0.01087), (0.97408, 0.01075), (0.97408, 0.01063), (0.97408, 0.01051),
    (0.97416, 0.01148), (0.97416, 0.01136), (0.97416, 0.01124), (0.97416, 0.01112), (0.97416, 0.01100),
    (0.97416, 0.01088), (0.97416, 0.01076), (0.97416, 0.01064), (0.97416, 0.01052),
    (0.97424, 0.01137), (0.97424, 0.01125), (0.97424, 0.01113), (0.97424, 0.01101), (0.97424, 0.01089),
    (0.97424, 0.01077), (0.97424, 0.01065), (0.97424, 0.01053),
    (0.97432, 0.01126), (0.97432, 0.01114), (0.97432, 0.01102), (0.97432, 0.01090), (0.97432, 0.01078),
    (0.97432, 0.01066), (0.97432, 0.01054),
    (0.97440, 0.01115), (0.97440, 0.01103), (0.97440, 0.01091), (0.97440, 0.01079), (0.97440, 0.01067),
    (0.97440, 0.01055), (0.97440, 0.01043),
    (0.97448, 0.01104), (0.97448, 0.01092), (0.97448, 0.01080), (0.97448, 0.01068), (0.97448, 0.01056),
    (0.97448, 0.01044),
    (0.97456, 0.01093), (0.97456, 0.01081), (0.97456, 0.01069), (0.97456, 0.01057), (0.97456, 0.01045),
    (0.97464, 0.01083), (0.97464, 0.01071), (0.97464, 0.01059), (0.97464, 0.01047),
    (0.97472, 0.01072), (0.97472, 0.01060), (0.97472, 0.01048), (0.97472, 0.01036),
    (0.97480, 0.01061), (0.97480, 0.01049), (0.97480, 0.01037),
    (0.97488, 0.01050), (0.97488, 0.01038),
    (0.97496, 0.01039),
]

# ---------------- assemble series ----------------
metric_pts = (metric_scatter + metric_fan + metric_fan_cols
              + list(zip(metric_band_top_ns, metric_band_top_fnl))
              + list(zip(metric_band_low_ns, metric_band_low_fnl))
              + list(zip(metric_band_low_ns, metric_band_mid_fnl))
              + list(zip(metric_band_ns, metric_band_fnl))
              + metric_clusters)
pal_pts = pal_scatter + pal_tail + pal_wedge + pal_stripe

metric_ns = [p[0] for p in metric_pts]
metric_fnl = [p[1] for p in metric_pts]
pal_ns = [p[0] for p in pal_pts]
pal_fnl = [p[1] for p in pal_pts]

BLUE = "rgba(0,0,255,0.3)"
GRAY = "rgba(128,128,128,0.3)"

fig = go.Figure()
fig.add_trace(go.Scatter(
    x=pal_ns, y=pal_fnl, mode="markers", name="<i>Palatini</i>",
    marker=dict(symbol="circle", size=10.5, color=BLUE, line=dict(color=BLUE, width=1.6)),
    legendrank=2, legendgroup="b",
))
fig.add_trace(go.Scatter(
    x=metric_ns, y=metric_fnl, mode="markers", name="<i>Metric</i>",
    marker=dict(symbol="diamond", size=10.5, color=GRAY, line=dict(color=GRAY, width=1.6)),
    legendrank=3, legendgroup="c",
))
fig.add_trace(go.Scatter(
    x=line_ns, y=line_fnl, mode="lines", name="<i>Single field relation</i>",
    line=dict(color="black", width=2.5),
    legendrank=1, legendgroup="a",
))

axis_common = dict(
    showgrid=True, gridcolor="#b0b0b0", gridwidth=1.3,
    showline=True, linecolor="black", linewidth=1.3, mirror=True,
    ticks="outside", ticklen=6, tickwidth=1.3, tickcolor="black",
    zeroline=False, tickfont=dict(size=16, color="black"),
)

fig.update_xaxes(range=[0.966, 0.976], tickvals=x_ticks, ticktext=x_tick_labels,
                 title=dict(text="<i>n<sub>s</sub></i>", font=dict(size=16), standoff=15),
                 **axis_common)
fig.update_yaxes(range=[0.010, 0.023], tickvals=y_ticks, ticktext=y_tick_labels,
                 title=dict(text="<i>f<sub>nl</sub></i>", font=dict(size=16), standoff=28),
                 **axis_common)

fig.update_layout(
    width=960, height=720,
    margin=dict(l=112, r=104, t=79, b=87),
    plot_bgcolor="white", paper_bgcolor="white",
    font=dict(family="DejaVu Sans", size=16, color="black"),
    showlegend=True,
    legend=dict(
        x=0.985, y=0.984, xanchor="right", yanchor="top",
        bgcolor="rgba(255,255,255,0.8)", bordercolor="#cccccc", borderwidth=1,
        font=dict(size=20, color="black"),
        traceorder="grouped", tracegroupgap=2, itemwidth=58,
    ),
)

fig.write_html("out.html")
